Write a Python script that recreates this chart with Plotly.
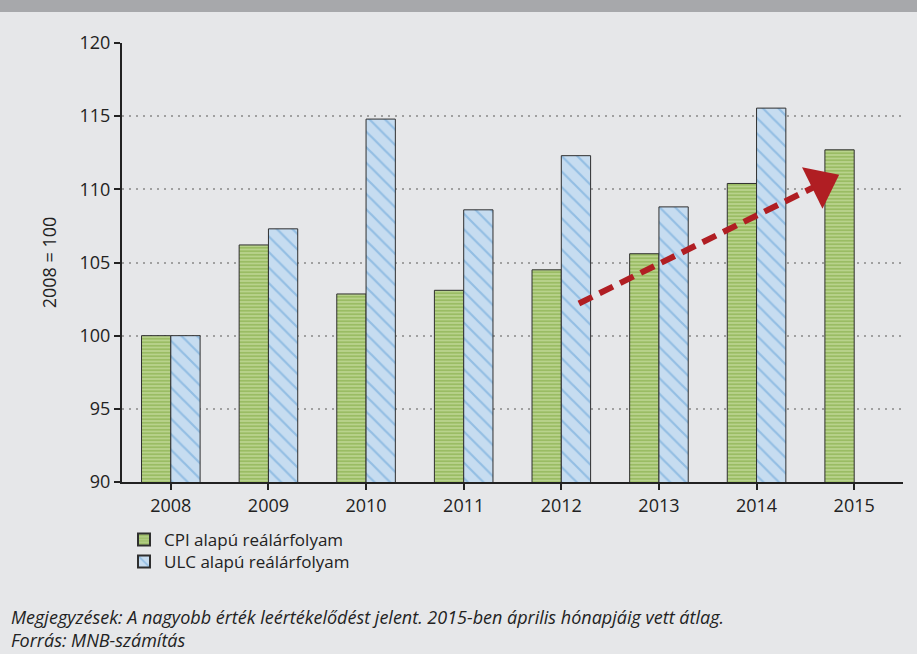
import math
import plotly.graph_objects as go

years = ["2008", "2009", "2010", "2011", "2012", "2013", "2014", "2015"]
cpi = [100.0, 106.2, 102.85, 103.1, 104.5, 105.6, 110.4, 112.7]
ulc = [100.0, 107.3, 114.8, 108.6, 112.3, 108.8, 115.55, None]
cpi_name = "CPI alapú reálárfolyam"
ulc_name = "ULC alapú reálárfolyam"
y_ticks = [90, 95, 100, 105, 110, 115, 120]
arrow_start = (4.18, 102.2)
arrow_end = (6.8, 110.85)
note1 = "Megjegyzések: A nagyobb érték leértékelődést jelent. 2015-ben április hónapjáig vett átlag."
note2 = "Forrás: MNB-számítás"

W, H = 917, 654
ML, MR, MT, MB = 122, 14, 43, 172
PW, PH = W - ML - MR, H - MT - MB
Y0, Y1 = 90, 120
NCAT = len(years)

def px_x(p):
    return (p - ML) / PW

def px_y(p):
    return (H - MB - p) / PH

FONT = "Open Sans"
RED = "#b01e23"

fig = go.Figure()
fig.add_trace(go.Bar(
    x=list(range(NCAT)), y=cpi, name=cpi_name, legend="legend",
    marker=dict(color="#c4da9c",
                line=dict(color="#2f2f2f", width=1),
                pattern=dict(shape="-", fgcolor="#6f9e2c", bgcolor="#c4da9c",
                             size=3.5, solidity=0.65, fillmode="overlay")),
))
fig.add_trace(go.Bar(
    x=list(range(NCAT)), y=ulc, name=ulc_name, legend="legend2",
    marker=dict(color="#c6dcf0",
                line=dict(color="#2f2f2f", width=1),
                pattern=dict(shape="\\", fgcolor="#5f9fd6", bgcolor="#c6dcf0",
                             size=11, solidity=0.2, fillmode="overlay")),
))

# dashed arrow: shaft
sx, sy = arrow_start
ex, ey = arrow_end
ppx = PW / NCAT          # pixels per category
ppy = PH / (Y1 - Y0)     # pixels per y unit
dxp, dyp = (ex - sx) * ppx, (ey - sy) * ppy
L = math.hypot(dxp, dyp)
ux, uy = dxp / L, dyp / L
head_len = 30
fig.add_shape(type="line", xref="x", yref="y",
              x0=sx, y0=sy,
              x1=ex - ux * (head_len - 6) / ppx, y1=ey - uy * (head_len - 6) / ppy,
              line=dict(color=RED, width=6, dash="15px,8px"))
# arrow head as rotated triangle marker
ang = math.degrees(math.atan2(dxp, dyp))
back = 15
fig.add_trace(go.Scatter(
    x=[ex - ux * back / ppx], y=[ey - uy * back / ppy], mode="markers",
    marker=dict(symbol="triangle-up", size=40, color=RED, angle=ang,
                line=dict(width=0)),
    showlegend=False, hoverinfo="skip"))

# top band
fig.add_shape(type="rect", xref="paper", yref="paper",
              x0=px_x(0), x1=px_x(W), y0=px_y(12), y1=px_y(0),
              fillcolor="#a7a8ab", line=dict(width=0), layer="below")

for txt, yy in [(note1, 617), (note2, 640)]:
    fig.add_annotation(text=txt, xref="paper", yref="paper", x=px_x(9), y=px_y(yy),
                       xanchor="left", yanchor="middle", showarrow=False,
                       font=dict(family=FONT, size=18, color="#222222", style="italic"))

leg_common = dict(xanchor="left", yanchor="middle", bgcolor="rgba(0,0,0,0)",
                  font=dict(size=17, family=FONT, color="#222222"),
                  itemsizing="constant", borderwidth=0)

fig.update_layout(
    width=W, height=H,
    margin=dict(l=ML, r=MR, t=MT, b=MB),
    paper_bgcolor="#e6e7e9", plot_bgcolor="#e6e7e9",
    barmode="group", bargap=0.4, bargroupgap=0,
    font=dict(family=FONT, size=18, color="#222222"),
    showlegend=True,
    legend=dict(x=px_x(124), y=px_y(540), **leg_common),
    legend2=dict(x=px_x(124), y=px_y(562), **leg_common),
    xaxis=dict(tickmode="array", tickvals=list(range(NCAT)), ticktext=years,
               range=[-0.5, NCAT - 0.5],
               showline=True, linecolor="#222222", linewidth=2,
               ticks="outside", ticklen=6, tickwidth=2, tickcolor="#222222",
               showgrid=False, zeroline=False, tickfont=dict(size=18)),
    yaxis=dict(range=[Y0, Y1], tickvals=y_ticks,
               showline=True, linecolor="#222222", linewidth=2,
               ticks="outside", ticklen=6, tickwidth=2, tickcolor="#222222",
               showgrid=True, gridcolor="#a0a0a0", griddash="2px,5px", gridwidth=1.5,
               zeroline=False, tickfont=dict(size=18),
               title=dict(text="2008 = 100", font=dict(size=18), standoff=18)),
)

fig.write_html("out.html", config={"displayModeBar": False},
               post_script="document.body.style.margin='0';document.body.style.overflow='hidden';")
